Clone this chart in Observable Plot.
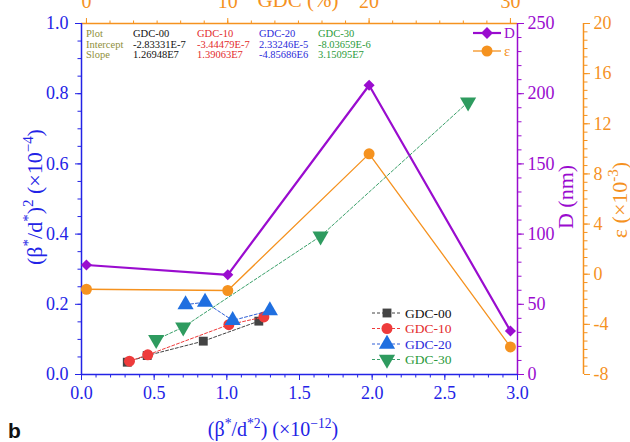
<!DOCTYPE html>
<html><head><meta charset="utf-8">
<script src="https://cdn.jsdelivr.net/npm/d3@7"></script>
<script src="https://cdn.jsdelivr.net/npm/@observablehq/plot@0.6"></script>
<style>body{margin:0;background:#fff}#chart{width:630px;height:442px;overflow:hidden}</style>
</head><body><div id="chart"></div>
<script>
// ---- data ----
const gdc00X = [0.315, 0.452, 0.838, 1.220];
const gdc00Y = [0.035, 0.054, 0.095, 0.152];
const gdc10X = [0.330, 0.456, 1.014, 1.255];
const gdc10Y = [0.038, 0.056, 0.142, 0.164];
const gdc20X = [0.716, 0.850, 1.040, 1.296];
const gdc20Y = [0.199, 0.206, 0.154, 0.182];
const gdc30X = [0.514, 0.700, 1.645, 2.660];
const gdc30Y = [0.099, 0.135, 0.394, 0.776];
const gdcPct = [0, 10, 20, 30];
const crystalD = [78, 71, 206, 31];
const strain = [-1.2, -1.3, 9.6, -5.8];
const seriesNames = ["GDC-00", "GDC-10", "GDC-20", "GDC-30"];
const statIntercepts = ["-2.83331E-7", "-3.44479E-7", "2.33246E-5", "-8.03659E-6"];
const statSlopes = ["1.26948E7", "1.39063E7", "-4.85686E6", "3.15095E7"];
const xTicks = [0, 0.5, 1, 1.5, 2, 2.5, 3];
const yTicks = [0, 0.2, 0.4, 0.6, 0.8, 1.0];
const gdcTicks = [0, 10, 20, 30];
const dTicks = [0, 50, 100, 150, 200, 250];
const epsTicks = [-8, -4, 0, 4, 8, 12, 16, 20];
const gdcDomain = [-0.35, 30.5];
const dDomain = [0, 250];
const epsDomain = [-8, 20];

// ---- styling ----
const blue = "#2323e6", purple = "#9a0ccf", orange = "#f5921f";
const serif = "'Liberation Serif','Times New Roman',serif";
const seriesStyle = [
  {line: "#444444", fill: "#444444", text: "#111111", symbol: "square", r: 5, rotate: 0},
  {line: "#ee3b3b", fill: "#ee3b3b", text: "#e32b2b", symbol: "circle", r: 5.5, rotate: 0},
  {line: "#2f5fd6", fill: "#1f6fe0", text: "#2b2bd9", symbol: "triangle", r: 6, rotate: 0},
  {line: "#3aa06a", fill: "#2e9b5f", text: "#2a9a3a", symbol: "triangle", r: 6, rotate: 180}
];
const seriesX = [gdc00X, gdc10X, gdc20X, gdc30X];
const seriesY = [gdc00Y, gdc10Y, gdc20Y, gdc30Y];

// conversions from secondary scales into the primary frame
const gx = g => (g - gdcDomain[0]) / (gdcDomain[1] - gdcDomain[0]) * 3;
const gxInv = x => x / 3 * (gdcDomain[1] - gdcDomain[0]) + gdcDomain[0];
const dy = d => (d - dDomain[0]) / (dDomain[1] - dDomain[0]);
const ey = e => (e - epsDomain[0]) / (epsDomain[1] - epsDomain[0]);
const eyInv = y => y * (epsDomain[1] - epsDomain[0]) + epsDomain[0];

const range = (a, b, s) => { const out = []; for (let v = a; v <= b + 1e-9; v += s) out.push(+v.toFixed(6)); return out; };
const minorX = range(0, 3, 0.1);
const minorY = range(0, 1, 0.05);
const minorG = range(0, 30, 10 / 6).map(gx);
const minorD = range(0, 250, 10).map(dy);
const minorE = range(-8, 20, 4 / 6).map(ey);

const seriesMarks = seriesNames.flatMap((name, k) => {
  const rows = seriesX[k].map((x, i) => ({x, y: seriesY[k][i]}));
  const st = seriesStyle[k];
  return [
    Plot.line(rows, {x: "x", y: "y", stroke: st.line, strokeWidth: 1, strokeDasharray: "3,2"}),
    Plot.dot(rows, {x: "x", y: "y", symbol: st.symbol, fill: st.fill, r: st.r, rotate: st.rotate, stroke: "none"})
  ];
});
const dRows = gdcPct.map((g, i) => ({x: gx(g), y: dy(crystalD[i])}));
const eRows = gdcPct.map((g, i) => ({x: gx(g), y: ey(strain[i])}));

const plot = Plot.plot({
  width: 630, height: 442,
  marginLeft: 81, marginRight: 113, marginTop: 23, marginBottom: 68,
  x: {domain: [0, 3]},
  y: {domain: [0, 1]},
  style: {fontFamily: serif, background: "#fff"},
  marks: [
    // bottom axis
    Plot.axisX(minorX, {anchor: "bottom", tickSize: 3.5, stroke: blue, fill: "none", label: null}),
    Plot.axisX(xTicks, {anchor: "bottom", tickSize: 6, tickPadding: 6, stroke: blue, fill: blue, fontSize: 18, tickFormat: d => d.toFixed(1), label: null}),
    // left axis
    Plot.axisY(minorY, {anchor: "left", tickSize: 3.5, stroke: blue, fill: "none", label: null}),
    Plot.axisY(yTicks, {anchor: "left", tickSize: 6, tickPadding: 7, stroke: blue, fill: blue, fontSize: 18, tickFormat: d => d.toFixed(1), label: null}),
    // top axis GDC (%)
    Plot.axisX(minorG, {anchor: "top", tickSize: 3.5, stroke: orange, fill: "none", label: null}),
    Plot.axisX(gdcTicks.map(gx), {anchor: "top", tickSize: 6, tickPadding: 10, stroke: orange, fill: orange, fontSize: 20, tickFormat: d => String(Math.round(gxInv(d))), label: null}),
    // right axis D (nm)
    Plot.axisY(minorD, {anchor: "right", tickSize: 3.5, stroke: purple, fill: "none", label: null}),
    Plot.axisY(dTicks.map(dy), {anchor: "right", tickSize: 6, tickPadding: 4, stroke: purple, fill: purple, fontSize: 18, tickFormat: d => String(Math.round(d * 250)), label: null}),
    // offset axis epsilon
    Plot.axisY(minorE, {anchor: "right", dx: 66, tickSize: 3.5, stroke: orange, fill: "none", label: null}),
    Plot.axisY(epsTicks.map(ey), {anchor: "right", dx: 66, tickSize: 6, tickPadding: 4, stroke: orange, fill: orange, fontSize: 18, tickFormat: d => String(Math.round(eyInv(d))), label: null}),
    // axis lines
    Plot.ruleY([1], {stroke: orange, strokeWidth: 1.5}),
    Plot.ruleX([3], {stroke: purple, strokeWidth: 1.5}),
    Plot.ruleX([3], {stroke: orange, strokeWidth: 1.5, dx: 66}),
    Plot.ruleY([0], {stroke: blue, strokeWidth: 1.5}),
    Plot.ruleX([0], {stroke: blue, strokeWidth: 1.5}),
    // D and epsilon series
    Plot.line(eRows, {x: "x", y: "y", stroke: orange, strokeWidth: 1.3}),
    Plot.line(dRows, {x: "x", y: "y", stroke: purple, strokeWidth: 2.2}),
    Plot.dot(eRows, {x: "x", y: "y", symbol: "circle", fill: orange, r: 5.5, stroke: "none"}),
    Plot.dot(dRows, {x: "x", y: "y", symbol: "diamond2", fill: purple, r: 5, stroke: "none"}),
    ...seriesMarks
  ]
});
document.getElementById("chart").appendChild(plot);

// ---- annotations ----
const svg = d3.select(plot);
function rich(sel, parts, size) {
  let up = false;
  parts.forEach(([t, sup]) => {
    const ts = sel.append("tspan").text(t);
    if (sup) { ts.attr("font-size", size * 0.68); if (!up) { ts.attr("dy", -size * 0.4); up = true; } }
    else if (up) { ts.attr("dy", size * 0.4); up = false; }
  });
}
const g = svg.append("g").attr("font-family", serif).attr("text-anchor", "start");
// left title
rich(g.append("text").attr("transform", "translate(42,197) rotate(-90)").attr("text-anchor", "middle")
  .attr("fill", blue).attr("font-size", 22),
  [["(β", 0], ["*", 1], ["/d", 0], ["*", 1], [")", 0], ["2", 1], [" (×10", 0], ["−4", 1], [")", 0]], 22);
// bottom title
rich(g.append("text").attr("x", 273).attr("y", 436).attr("text-anchor", "middle").attr("fill", blue).attr("font-size", 20),
  [["(β", 0], ["*", 1], ["/d", 0], ["*2", 1], [") (×10", 0], ["−12", 1], [")", 0]], 20);
// top title
g.append("text").attr("x", 298).attr("y", 7).attr("text-anchor", "middle").attr("fill", orange).attr("font-size", 21).text("GDC (%)");
// D title
g.append("text").attr("transform", "translate(573,197) rotate(-90)").attr("text-anchor", "middle").attr("fill", purple).attr("font-size", 22).text("D (nm)");
// epsilon title
rich(g.append("text").attr("transform", "translate(627,200) rotate(-90)").attr("text-anchor", "middle").attr("fill", orange).attr("font-size", 22),
  [["ε (×10", 0], ["-3", 1], [")", 0]], 22);
// panel letter
svg.append("text").attr("x", 8).attr("y", 438).attr("text-anchor", "start").attr("font-family", "'Liberation Sans',Arial,sans-serif").attr("font-weight", "bold").attr("font-size", 21).attr("fill", "#111").text("b");

// stats table
const olive = "#8f8f3a";
const rowsY = [37, 47.5, 58];
["Plot", "Intercept", "Slope"].forEach((t, i) => g.append("text").attr("x", 86).attr("y", rowsY[i]).attr("font-size", 10.5).attr("fill", olive).text(t));
const colX = [133, 197, 259, 318];
seriesNames.forEach((n, k) => {
  [n, statIntercepts[k], statSlopes[k]].forEach((t, i) =>
    g.append("text").attr("x", colX[k]).attr("y", rowsY[i]).attr("font-size", 10.5).attr("fill", seriesStyle[k].text).text(t));
});

// top-right legend
const lg = g.append("g");
[[purple, 2.2, d3.symbolDiamond2, 33, "D", 90], [orange, 1.3, d3.symbolCircle, 51, "ε", 95]].forEach(([c, w, sym, y, t, area]) => {
  lg.append("line").attr("x1", 473).attr("x2", 501).attr("y1", y).attr("y2", y).attr("stroke", c).attr("stroke-width", w);
  lg.append("path").attr("d", d3.symbol(sym, area)()).attr("transform", `translate(487,${y})`).attr("fill", c);
  lg.append("text").attr("x", 504).attr("y", y + 5).attr("font-size", 15).attr("fill", c).text(t);
});

// bottom legend
const legY = [313, 328.5, 344, 359.5];
const symMap = {square: d3.symbolSquare, circle: d3.symbolCircle, triangle: d3.symbolTriangle};
seriesNames.forEach((n, k) => {
  const st = seriesStyle[k], y = legY[k];
  lg.append("line").attr("x1", 372).attr("x2", 401).attr("y1", y).attr("y2", y).attr("stroke", st.line).attr("stroke-dasharray", "3,2");
  lg.append("path").attr("d", d3.symbol(symMap[st.symbol], Math.PI * st.r * st.r)())
    .attr("transform", `translate(387,${y}) rotate(${st.rotate})`).attr("fill", st.fill);
  lg.append("text").attr("x", 405).attr("y", y + 4.5).attr("font-size", 13.5).attr("fill", st.text).text(n);
});
</script>
</body></html>
